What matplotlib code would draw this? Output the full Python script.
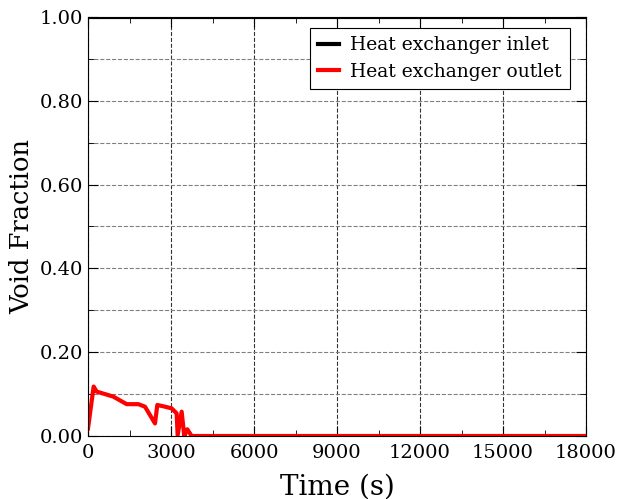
import numpy as np
import matplotlib
matplotlib.use("Agg")
import matplotlib.pyplot as plt
from matplotlib.ticker import MultipleLocator

plt.rcParams['font.family'] = ['DejaVu Serif']
plt.rcParams['mathtext.fontset'] = 'dejavuserif'

# ------------------------------------------------------------
# DATA
# ------------------------------------------------------------

t_inlet = [0, 18000]
void_inlet = [1.0, 1.0]

t_outlet = [0, 204, 313, 915, 1397, 1819, 2060, 2421, 2505, 2782,
            3023, 3204, 3240, 3385, 3480, 3589, 3746, 18000]
void_outlet = [0.018, 0.118, 0.106, 0.094, 0.076, 0.076, 0.070, 0.030, 0.074, 0.070,
               0.066, 0.054, 0.002, 0.058, 0.0, 0.016, 0.0, 0.0]

# ------------------------------------------------------------
# PLOT
# ------------------------------------------------------------

fig = plt.figure(figsize=(6.19, 4.99), dpi=100)
ax = fig.add_axes([88 / 619, 1 - 436 / 499, (586 - 88) / 619, (436 - 17) / 499])

ax.plot(t_inlet, void_inlet, color='black', linewidth=3, label='Heat exchanger inlet')
ax.plot(t_outlet, void_outlet, color='red', linewidth=3, label='Heat exchanger outlet')

ax.set_xlim(0, 18000)
ax.set_ylim(0, 1.0)
ax.xaxis.set_major_locator(MultipleLocator(3000))
ax.xaxis.set_minor_locator(MultipleLocator(1500))
ax.yaxis.set_major_locator(MultipleLocator(0.2))
ax.yaxis.set_minor_locator(MultipleLocator(0.1))
ax.yaxis.set_major_formatter(plt.FormatStrFormatter('%.2f'))

ax.tick_params(which='both', direction='in', top=True, right=True, labelsize=14)
ax.tick_params(which='major', length=7)
ax.tick_params(which='minor', length=4)
ax.tick_params(axis='x', which='major', pad=6)

ax.grid(True, axis='x', which='major', color='black', linestyle='--', linewidth=0.8, alpha=0.8)
ax.grid(True, axis='y', which='both', color='gray', linestyle='--', linewidth=0.8)
ax.set_axisbelow(True)

ax.set_xlabel('Time (s)', fontsize=20, labelpad=8)
ax.set_ylabel('Void Fraction', fontsize=18.5, labelpad=4)

leg = ax.legend(loc='upper right', bbox_to_anchor=(0.968, 0.974), fontsize=13.5,
                fancybox=False, framealpha=1, edgecolor='black',
                handlelength=1.1, handletextpad=0.6, borderaxespad=0,
                borderpad=0.45, labelspacing=0.45)
leg.get_frame().set_linewidth(0.8)

for s in ax.spines.values():
    s.set_linewidth(0.8)

fig.savefig('out.png', dpi=100)
